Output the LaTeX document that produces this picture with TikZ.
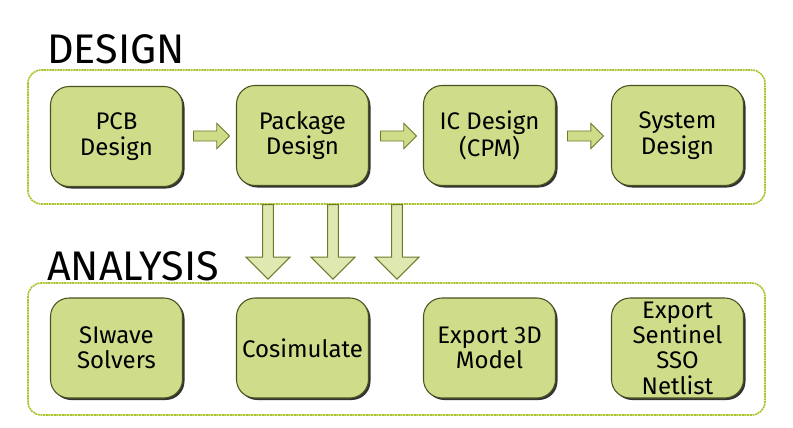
\documentclass[tikz,border=0pt]{standalone}
\usepackage{fontspec}
\setmainfont{Fira Sans}
\usetikzlibrary{shapes.arrows}
\definecolor{boxfill}{HTML}{CFDC8A}
\definecolor{boxline}{HTML}{4A5220}
\definecolor{frame}{HTML}{A8C42A}
\definecolor{arrfill}{HTML}{DFE8B0}
\definecolor{arrline}{HTML}{6D7A2A}
\begin{document}
\begin{tikzpicture}[x=0.75pt,y=-0.75pt,
  frm/.style={draw=frame,line width=1.2pt,dash pattern=on 1.5pt off 0.5pt,rounded corners=10pt},
  box/.style={draw=boxline,line width=0.8pt,fill=boxfill,rounded corners=14pt,
    minimum width=99pt,minimum height=75pt,align=center,inner sep=0pt,
    font=\fontsize{18}{19}\selectfont,
    preaction={fill=black!80,transform canvas={xshift=1.5pt,yshift=-1.5pt}}},
  ttl/.style={anchor=base west,font=\fontsize{31}{31}\selectfont,inner sep=0pt},
  rarr/.style={single arrow,draw=arrline,fill=boxfill,line width=0.6pt,minimum height=27pt,
    minimum width=19pt,single arrow head extend=3.5pt,inner sep=2pt},
  darr/.style={single arrow,shape border rotate=270,draw=arrline,fill=arrfill,line width=0.8pt,
    minimum height=56pt,minimum width=33pt,single arrow head extend=10.5pt,inner sep=3pt,anchor=north}]
\useasboundingbox (0,0) rectangle (793,428);
\draw[frm] (28,70) rectangle (765,204);
\draw[frm] (28,283) rectangle (765,415);
\node[ttl] (t1) at (47,64) {DESIGN};
\node[ttl] (t2) at (47,280) {ANALYSIS};
\node[box] (a) at (116.5,136.5) {PCB\\Design};
\node[box] (b) at (302.5,135.5) {Package\\Design};
\node[box] (c) at (489.5,135.5) {IC Design\\(CPM)};
\node[box] (d) at (677.5,135.5) {System\\Design};
\node[box] (e) at (116.5,348) {SIwave\\Solvers};
\node[box] (f) at (302.5,348) {Cosimulate};
\node[box] (g) at (489.5,348) {Export 3D\\Model};
\node[box] (h) at (677.5,348) {Export\\Sentinel\\SSO\\Netlist};
\node[rarr] (r1) at (209,136) {};
\node[rarr] (r2) at (396,136) {};
\node[rarr] (r3) at (583,136) {};
\node[darr] (d1) at (268,204) {};
\node[darr] (d2) at (333,204) {};
\node[darr] (d3) at (397,204) {};
\end{tikzpicture}
\end{document}
